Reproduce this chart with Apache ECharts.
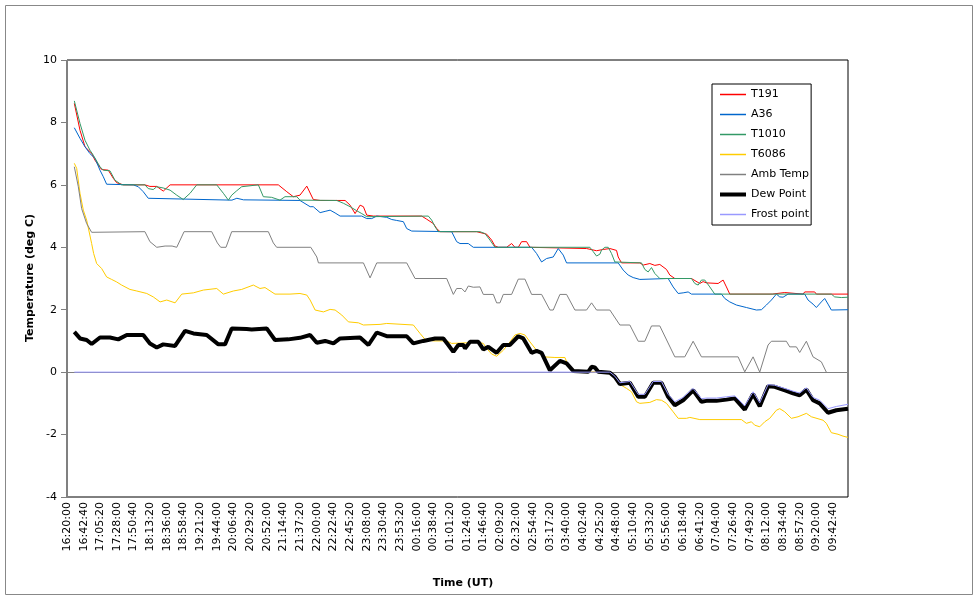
<!DOCTYPE html>
<html><head><meta charset="utf-8">
<script src="https://cdn.jsdelivr.net/npm/echarts@6/dist/echarts.min.js"></script>
<style>html,body{margin:0;padding:0;background:#fff}#c{width:978px;height:600px}</style>
</head><body><div id="c"></div>
<script>
// x = position in units of tick-label intervals (22:40 each) from 16:20:00
const tickLabels = ["16:20:00","16:42:40","17:05:20","17:28:00","17:50:40","18:13:20","18:36:00","18:58:40","19:21:20","19:44:00","20:06:40","20:29:20","20:52:00","21:14:40","21:37:20","22:00:00","22:22:40","22:45:20","23:08:00","23:30:40","23:53:20","00:16:00","00:38:40","01:01:20","01:24:00","01:46:40","02:09:20","02:32:00","02:54:40","03:17:20","03:40:00","04:02:40","04:25:20","04:48:00","05:10:40","05:33:20","05:56:00","06:18:40","06:41:20","07:04:00","07:26:40","07:49:20","08:12:00","08:34:40","08:57:20","09:20:00","09:42:40"];
const seriesNames = ["T191","A36","T1010","T6086","Amb Temp","Dew Point","Frost point"];

const t191 = [[0.44,8.61],[0.78,7.75],[1.08,7.22],[1.48,7.01],[1.68,6.79],[2.08,6.49],[2.48,6.47],[2.78,6.21],[2.98,6.07],[3.38,6.0],[4.68,6.0],[4.98,5.95],[5.39,5.95],[5.78,5.8],[6.19,6.0],[12.69,6.0],[13.2,5.78],[13.59,5.62],[13.99,5.67],[14.4,5.96],[14.79,5.53],[15.2,5.5],[16.7,5.5],[17.0,5.35],[17.3,5.08],[17.6,5.35],[17.8,5.3],[18.0,5.03],[18.4,5.0],[21.3,5.0],[21.6,4.9],[22.0,4.76],[22.2,4.6],[22.4,4.5],[24.6,4.5],[25.2,4.42],[25.5,4.23],[25.7,4.04],[25.9,4.0],[26.4,4.0],[26.7,4.12],[26.9,4.0],[27.1,4.0],[27.3,4.18],[27.6,4.18],[27.8,4.0],[31.2,3.96],[31.8,3.89],[32.2,3.93],[32.6,3.96],[33.0,3.9],[33.1,3.69],[33.3,3.5],[34.4,3.5],[34.6,3.43],[35.0,3.48],[35.3,3.42],[35.6,3.45],[36.0,3.29],[36.2,3.11],[36.5,3.0],[37.5,3.0],[38.0,2.84],[38.2,2.9],[38.4,2.86],[39.1,2.84],[39.4,2.95],[39.6,2.73],[39.8,2.5],[42.35,2.5],[42.4,2.55],[43.1,2.55],[43.2,2.5],[44.2,2.5],[44.3,2.57],[44.9,2.57],[45.0,2.5],[46.9,2.5]];

const a36 = [[0.44,7.83],[0.78,7.49],[1.08,7.22],[1.38,7.0],[1.68,6.85],[1.98,6.47],[2.18,6.26],[2.38,6.02],[3.98,6.0],[4.28,5.94],[4.58,5.78],[4.88,5.57],[4.98,5.51],[9.9,5.51],[10.2,5.57],[10.6,5.52],[13.99,5.5],[14.6,5.3],[14.79,5.3],[15.2,5.11],[15.5,5.15],[15.8,5.19],[16.1,5.1],[16.4,5.0],[17.7,5.0],[18.0,4.92],[18.3,4.92],[18.6,5.0],[19.2,4.96],[19.5,4.89],[19.8,4.86],[20.2,4.82],[20.4,4.6],[20.7,4.52],[23.1,4.5],[23.4,4.18],[23.6,4.12],[24.1,4.12],[24.4,4.0],[27.9,4.0],[28.2,3.8],[28.5,3.53],[28.8,3.64],[29.2,3.69],[29.5,3.96],[29.8,3.75],[30.0,3.5],[33.1,3.5],[33.4,3.27],[33.7,3.11],[34.0,3.03],[34.4,2.97],[36.1,3.0],[36.4,2.73],[36.7,2.52],[37.0,2.54],[37.3,2.57],[37.5,2.5],[39.3,2.5],[39.5,2.36],[39.8,2.25],[40.2,2.15],[40.8,2.07],[41.4,1.99],[41.7,2.0],[42.0,2.15],[42.3,2.31],[42.6,2.5],[42.8,2.41],[43.0,2.4],[43.3,2.5],[44.3,2.5],[44.5,2.31],[44.8,2.18],[45.0,2.07],[45.3,2.25],[45.5,2.36],[45.7,2.18],[45.9,1.99],[46.9,2.0]];

const t1010 = [[0.44,8.69],[0.78,7.97],[1.08,7.43],[1.38,7.11],[1.58,6.95],[1.98,6.58],[2.18,6.47],[2.58,6.45],[2.88,6.15],[3.28,6.0],[4.68,6.0],[4.88,5.88],[5.18,5.85],[5.39,5.94],[5.78,5.9],[6.19,5.83],[6.59,5.67],[6.98,5.53],[7.39,5.73],[7.79,6.0],[8.99,6.0],[9.39,5.73],[9.69,5.51],[9.89,5.67],[10.19,5.81],[10.49,5.94],[10.59,6.0],[11.49,6.0],[11.79,5.62],[12.29,5.6],[12.79,5.51],[13.09,5.62],[13.8,5.62],[13.99,5.51],[16.2,5.5],[16.6,5.41],[17.0,5.3],[17.4,5.17],[17.7,5.08],[18.0,4.98],[21.7,5.0],[21.9,4.87],[22.1,4.66],[22.3,4.5],[24.8,4.5],[25.1,4.44],[25.4,4.23],[25.7,4.0],[31.4,4.0],[31.6,3.86],[31.8,3.72],[32.0,3.78],[32.1,3.91],[32.3,4.0],[32.5,4.0],[32.7,3.8],[32.9,3.53],[33.0,3.5],[34.5,3.5],[34.7,3.29],[34.9,3.21],[35.1,3.35],[35.3,3.16],[35.6,3.0],[37.5,3.0],[37.7,2.84],[37.9,2.79],[38.1,2.95],[38.3,2.95],[38.6,2.73],[38.9,2.5],[45.9,2.5],[46.1,2.41],[46.5,2.39],[46.9,2.4]];

const t6086 = [[0.44,6.69],[0.58,6.53],[0.78,5.73],[0.98,5.19],[1.18,4.87],[1.48,4.12],[1.6,3.8],[1.78,3.48],[2.08,3.32],[2.38,3.05],[2.68,2.97],[2.98,2.89],[3.28,2.79],[3.78,2.65],[4.19,2.6],[4.79,2.52],[5.18,2.41],[5.59,2.25],[5.99,2.31],[6.49,2.22],[6.89,2.5],[7.59,2.54],[8.19,2.63],[8.99,2.68],[9.39,2.5],[9.99,2.6],[10.49,2.65],[11.19,2.79],[11.59,2.68],[11.89,2.71],[12.49,2.5],[13.39,2.5],[13.99,2.52],[14.4,2.47],[14.6,2.31],[14.9,1.99],[15.4,1.93],[15.8,2.01],[16.1,1.99],[16.5,1.83],[16.9,1.61],[17.5,1.58],[17.8,1.51],[18.8,1.53],[19.2,1.56],[20.8,1.51],[21.2,1.24],[21.5,1.05],[22.0,1.0],[22.8,1.0],[23.1,0.92],[24.0,0.94],[24.6,0.97],[25.0,0.92],[25.2,0.76],[25.5,0.58],[25.8,0.51],[26.2,0.7],[26.6,0.97],[26.9,1.19],[27.2,1.24],[27.5,1.19],[27.8,0.97],[28.2,0.7],[28.6,0.49],[29.3,0.47],[29.9,0.47],[30.1,0.2],[30.3,0.06],[30.6,0.01],[32.2,0.01],[32.7,-0.06],[33.1,-0.36],[33.6,-0.52],[33.9,-0.63],[34.2,-0.95],[34.4,-1.0],[35.0,-0.97],[35.4,-0.88],[35.7,-0.9],[36.0,-1.0],[36.4,-1.27],[36.7,-1.48],[37.2,-1.48],[37.4,-1.45],[38.0,-1.52],[40.5,-1.52],[40.8,-1.64],[41.1,-1.59],[41.3,-1.7],[41.6,-1.75],[41.9,-1.59],[42.2,-1.48],[42.6,-1.22],[42.8,-1.17],[43.1,-1.27],[43.5,-1.48],[43.9,-1.43],[44.4,-1.32],[44.7,-1.43],[45.4,-1.54],[45.6,-1.64],[45.9,-1.94],[46.3,-1.99],[46.6,-2.05],[46.9,-2.09]];

const ambTemp = [[0.44,6.58],[0.68,5.94],[0.88,5.24],[1.18,4.76],[1.48,4.48],[4.68,4.5],[4.98,4.18],[5.39,4.0],[5.89,4.04],[6.31,4.04],[6.59,4.0],[7.03,4.5],[8.69,4.5],[9.03,4.14],[9.23,4.0],[9.55,4.0],[9.89,4.5],[12.09,4.5],[12.39,4.14],[12.59,4.0],[14.64,4.0],[15.0,3.69],[15.1,3.5],[17.8,3.5],[18.2,3.02],[18.6,3.5],[20.4,3.5],[20.9,3.0],[22.8,3.0],[23.2,2.49],[23.4,2.68],[23.7,2.68],[23.9,2.57],[24.1,2.76],[24.4,2.72],[24.8,2.73],[25.0,2.49],[25.6,2.49],[25.8,2.22],[26.0,2.22],[26.2,2.49],[26.7,2.49],[27.1,2.98],[27.5,2.98],[27.9,2.49],[28.5,2.49],[29.0,1.99],[29.2,1.99],[29.6,2.49],[30.0,2.49],[30.5,1.99],[31.2,1.99],[31.5,2.22],[31.8,1.99],[32.6,1.99],[33.2,1.51],[33.8,1.51],[34.3,0.99],[34.7,0.99],[35.1,1.48],[35.6,1.48],[36.5,0.49],[37.1,0.49],[37.6,0.99],[38.1,0.49],[40.3,0.49],[40.7,0.01],[41.2,0.49],[41.6,0.0],[42.1,0.87],[42.3,0.99],[43.2,0.99],[43.4,0.81],[43.8,0.81],[44.0,0.63],[44.4,0.99],[44.8,0.49],[45.3,0.33],[45.6,0.0]];

const dewPoint = [[0.44,1.29],[0.78,1.08],[1.18,1.03],[1.48,0.9],[1.98,1.11],[2.58,1.11],[3.08,1.05],[3.59,1.19],[4.58,1.19],[4.98,0.92],[5.39,0.79],[5.78,0.89],[6.49,0.84],[7.09,1.32],[7.59,1.24],[8.39,1.19],[9.09,0.89],[9.49,0.89],[9.89,1.4],[10.79,1.38],[11.09,1.37],[11.99,1.4],[12.49,1.03],[13.29,1.05],[13.99,1.1],[14.6,1.19],[15.0,0.94],[15.5,1.0],[16.0,0.92],[16.4,1.08],[17.6,1.11],[18.1,0.87],[18.6,1.27],[19.2,1.15],[20.4,1.15],[20.8,0.92],[21.4,1.0],[22.1,1.08],[22.6,1.08],[22.9,0.87],[23.2,0.65],[23.5,0.87],[23.8,0.87],[23.9,0.76],[24.2,0.97],[24.7,0.97],[25.0,0.73],[25.3,0.81],[25.8,0.62],[26.2,0.87],[26.6,0.87],[27.1,1.15],[27.4,1.08],[27.9,0.62],[28.2,0.68],[28.5,0.62],[29.0,0.06],[29.6,0.36],[30.0,0.28],[30.4,0.04],[31.3,0.01],[31.5,0.17],[31.7,0.15],[31.9,0.01],[32.6,-0.02],[32.9,-0.15],[33.2,-0.38],[33.8,-0.34],[34.3,-0.79],[34.7,-0.79],[35.2,-0.34],[35.7,-0.34],[36.1,-0.79],[36.5,-1.06],[37.0,-0.9],[37.6,-0.58],[38.1,-0.95],[38.4,-0.92],[39.0,-0.92],[39.6,-0.88],[40.1,-0.84],[40.7,-1.2],[41.2,-0.7],[41.6,-1.09],[42.1,-0.45],[42.5,-0.47],[43.2,-0.6],[43.6,-0.68],[44.0,-0.74],[44.4,-0.56],[44.8,-0.9],[45.2,-1.0],[45.7,-1.3],[46.2,-1.22],[46.9,-1.17]];

const frostPoint = [[0.44,0.0],[32.6,0.0],[32.9,-0.13],[33.2,-0.34],[33.8,-0.3],[34.3,-0.71],[34.7,-0.71],[35.2,-0.3],[35.7,-0.3],[36.1,-0.71],[36.5,-0.95],[37.0,-0.81],[37.6,-0.52],[38.1,-0.85],[38.4,-0.83],[39.0,-0.83],[39.6,-0.79],[40.1,-0.76],[40.7,-1.08],[41.2,-0.63],[41.6,-0.98],[42.1,-0.4],[42.5,-0.42],[43.2,-0.54],[43.6,-0.61],[44.0,-0.67],[44.4,-0.5],[44.8,-0.81],[45.2,-0.9],[45.7,-1.17],[46.2,-1.1],[46.9,-1.03]];

const yMin = -4, yMax = 10, yStep = 2;
const xMax = 46.9;

const FONT = 'DejaVu Sans';
const chart = echarts.init(document.getElementById('c'), null, {renderer:'canvas'});
const colors = ['#ff0000','#0066cc','#339966','#ffcc00','#808080','#000000','#9999ff'];
const widths = [1,1,1,1,1,4,1];
const legendWidths = [1.5,1.5,1.5,1.5,1.5,4,1.5];
const datas = [t191,a36,t1010,t6086,ambTemp,dewPoint,frostPoint];

const series = datas.map((d,i)=>({
  name: seriesNames[i], type:'line', data:d, symbol:'none', showSymbol:false,
  lineStyle:{color:colors[i], width:widths[i]},
  itemStyle:{color:'rgba(0,0,0,0)', borderWidth:0},
  z: 3 + i, animation:false,
  markLine: i===0 ? {silent:true, symbol:'none', label:{show:false},
    lineStyle:{color:'#808080', width:1, type:'solid'}, data:[{yAxis:0}], z:1} : undefined
}));

chart.setOption({
  animation:false,
  backgroundColor:'#ffffff',
  textStyle:{fontFamily:FONT},
  grid:{left:67, top:60, width:781, height:437, show:true, borderColor:'#000', borderWidth:1, containLabel:false},
  xAxis:{type:'value', min:0, max:xMax, interval:1,
    axisLine:{show:false}, axisTick:{show:false}, splitLine:{show:false},
    axisLabel:{rotate:90, margin:5, color:'#000', fontSize:11, fontFamily:FONT, showMaxLabel:false,
      formatter:v=>{const k=Math.round(v); return (Math.abs(v-k)<1e-6 && tickLabels[k]) ? tickLabels[k] : '';}}},
  yAxis:{type:'value', min:yMin, max:yMax, interval:yStep,
    axisLine:{show:true, lineStyle:{color:'#808080'}},
    axisTick:{show:true, inside:false, length:6, lineStyle:{color:'#808080'}},
    splitLine:{show:false},
    axisLabel:{color:'#000', fontSize:11, fontFamily:FONT, margin:10}},
  legend:{show:true, orient:'vertical', left:712, top:84,
    data: seriesNames.map((n,i)=>({name:n, lineStyle:{width:legendWidths[i], color:colors[i]}})),
    borderColor:'#000', borderWidth:1, padding:[5,2,5,6], itemGap:9,
    itemWidth:26, itemHeight:12, textStyle:{color:'#000', fontSize:11, fontFamily:FONT},
    itemStyle:{color:'rgba(0,0,0,0)', borderWidth:0, opacity:0},
    backgroundColor:'#fff'},
  graphic:[
    {type:'rect', shape:{x:5.5, y:5.5, width:967, height:589}, style:{fill:null, stroke:'#888', lineWidth:1}, silent:true, z:-10},
    {type:'text', x:30, y:278, rotation:Math.PI/2, style:{text:'Temperature (deg C)', font:'bold 11px "DejaVu Sans"', fill:'#000', align:'center', verticalAlign:'middle'}},
    {type:'text', x:463, y:583, style:{text:'Time (UT)', font:'bold 11px "DejaVu Sans"', fill:'#000', align:'center', verticalAlign:'middle'}}
  ],
  series: series
});
</script></body></html>
